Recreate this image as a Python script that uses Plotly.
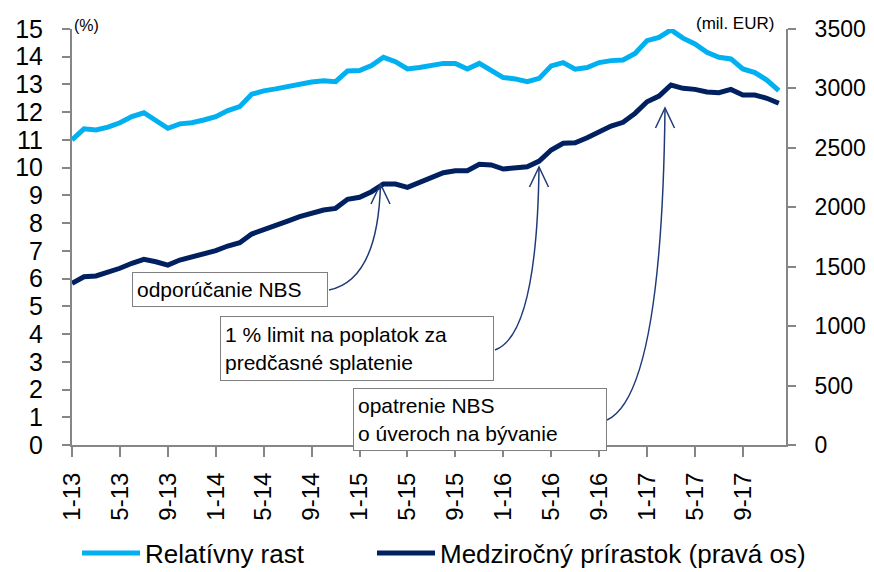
import plotly.graph_objects as go

# ---------------- data ----------------
month_labels = [f"{m}-{y}" for y in range(13, 18) for m in range(1, 13)]
tick_labels = ["1-13", "5-13", "9-13", "1-14", "5-14", "9-14", "1-15", "5-15",
               "9-15", "1-16", "5-16", "9-16", "1-17", "5-17", "9-17"]

rel_growth = [11.0, 11.4, 11.36, 11.46, 11.62, 11.84, 11.98, 11.72, 11.42, 11.58,
              11.62, 11.72, 11.84, 12.06, 12.2, 12.65, 12.77, 12.84, 12.92, 13.02,
              13.09, 13.13, 13.1, 13.49, 13.5, 13.68, 13.98, 13.82, 13.56, 13.61,
              13.67, 13.76, 13.76, 13.56, 13.76, 13.52, 13.25, 13.2, 13.1, 13.22,
              13.67, 13.79, 13.55, 13.61, 13.79, 13.86, 13.88, 14.12, 14.58, 14.7,
              14.97, 14.67, 14.46, 14.16, 13.98, 13.92, 13.56, 13.43, 13.16, 12.78]

yoy_increase = [1360, 1416, 1422, 1450, 1487, 1529, 1562, 1542, 1514, 1556,
                1579, 1607, 1635, 1674, 1702, 1775, 1815, 1851, 1884, 1921,
                1954, 1977, 1991, 2067, 2084, 2131, 2196, 2196, 2168, 2207,
                2249, 2291, 2308, 2308, 2362, 2356, 2322, 2333, 2341, 2389,
                2482, 2538, 2543, 2585, 2636, 2684, 2715, 2790, 2888, 2936,
                3029, 3001, 2992, 2970, 2964, 2992, 2945, 2945, 2917, 2875]

series_names = ["Relatívny rast", "Medziročný prírastok (pravá os)"]
note_texts = ["odporúčanie NBS",
              "1 % limit na poplatok za<br>predčasné splatenie",
              "opatrenie NBS<br>o úveroch na bývanie"]

# ---------------- layout helpers ----------------
# The page body has an 8px margin, so the figure is sized to fit the window.
OFF = 8
WIN_W, WIN_H = 874, 572
W, H = WIN_W - OFF, WIN_H - OFF
# plot area in window pixels: x 72..786, y 29..445
PX0, PX1, PY0, PY1 = 72, 786, 29, 445
L, R = PX0 - OFF, W - (PX1 - OFF)
T, B = PY0 - OFF, H - (PY1 - OFF)
PW, PH = PX1 - PX0, PY1 - PY0
FONT = "Arial, 'Liberation Sans', sans-serif"
AXIS_COL = "#868686"
LIGHT = "#00B0F0"
DARK = "#002060"
ARROW_COL = "#1F3A78"


def px(x):  # window pixel -> paper x
    return (x - PX0) / PW


def py(y):  # window pixel -> paper y
    return (PY1 - y) / PH


def cx(x):  # window pixel -> container x
    return (x - OFF) / W


def cy(y):  # window pixel -> container y
    return (H - (y - OFF)) / H


x_idx = list(range(len(month_labels)))
tickvals = [month_labels.index(t) for t in tick_labels]

fig = go.Figure()
fig.add_trace(go.Scatter(x=x_idx, y=rel_growth, name=series_names[0], mode="lines",
                         line=dict(color=LIGHT, width=5), yaxis="y", legend="legend",
                         showlegend=True))
fig.add_trace(go.Scatter(x=x_idx, y=yoy_increase, name=series_names[1], mode="lines",
                         line=dict(color=DARK, width=5), yaxis="y2", legend="legend2",
                         showlegend=True))

# curved arrows (pixel-based geometry converted to paper coords)
arrows = [
    ((329, 290), (378, 280), (380.5, 184)),
    ((495, 350), (537, 335), (539, 167)),
    ((607, 420), (662, 395), (665, 108)),
]
shapes = []
for (s, c, e) in arrows:
    path = f"M {px(s[0])},{py(s[1])} Q {px(c[0])},{py(c[1])} {px(e[0])},{py(e[1])}"
    shapes.append(dict(type="path", path=path, xref="paper", yref="paper",
                       line=dict(color=ARROW_COL, width=1.5)))
    head = (f"M {px(e[0]-9.5)},{py(e[1]+20)} L {px(e[0])},{py(e[1])} "
            f"L {px(e[0]+9.5)},{py(e[1]+20)}")
    shapes.append(dict(type="path", path=head, xref="paper", yref="paper",
                       line=dict(color=ARROW_COL, width=1.5)))

boxes = [
    (131.5, 272, 196, 35),
    (220, 316, 274, 65),
    (353, 388, 254, 63),
]
annotations = []
for txt, (bx, by, bw, bh) in zip(note_texts, boxes):
    pad = 4
    annotations.append(dict(
        text=txt, xref="paper", yref="paper", x=px(bx), y=py(by),
        xanchor="left", yanchor="top", showarrow=False, align="left",
        valign="middle", width=bw - 2 * pad - 2, height=bh - 2 * pad - 2,
        borderpad=pad, bordercolor="#7F7F7F", borderwidth=1, bgcolor="white",
        font=dict(family=FONT, size=21, color="black")))

annotations.append(dict(text="(%)", xref="paper", yref="paper", x=px(72), y=py(25),
                        xanchor="left", yanchor="middle", showarrow=False,
                        font=dict(family=FONT, size=16, color="black")))
annotations.append(dict(text="(mil. EUR)", xref="paper", yref="paper", x=px(776), y=py(24),
                        xanchor="right", yanchor="middle", showarrow=False,
                        font=dict(family=FONT, size=17, color="black")))

axis_common = dict(showline=True, linecolor=AXIS_COL, linewidth=2, ticks="outside",
                   tickcolor=AXIS_COL, tickwidth=2, showgrid=False, zeroline=False,
                   automargin=False)

legend_common = dict(orientation="h", yanchor="middle", xanchor="left",
                     xref="container", yref="container",
                     font=dict(size=26), bgcolor="rgba(0,0,0,0)", itemwidth=58)

fig.update_layout(
    template="none",
    showlegend=True,
    width=W, height=H,
    margin=dict(l=L, r=R, t=T, b=B, pad=0, autoexpand=False),
    paper_bgcolor="white", plot_bgcolor="white",
    font=dict(family=FONT, color="black"),
    xaxis=dict(range=[0, 59.6], tickvals=tickvals, ticktext=tick_labels,
               tickangle=-90, ticklen=10, tickfont=dict(size=24),
               ticklabelstandoff=6, **axis_common),
    yaxis=dict(range=[0, 15], tick0=0, dtick=1, ticklen=8,
               tickfont=dict(size=25), ticklabelstandoff=14, **axis_common),
    yaxis2=dict(range=[0, 3500], tick0=0, dtick=500, overlaying="y", side="right",
                ticklen=8, tickfont=dict(size=23), ticklabelstandoff=14, **axis_common),
    legend=dict(x=cx(77), y=cy(553), **legend_common),
    legend2=dict(x=cx(372), y=cy(553), **legend_common),
    shapes=shapes,
    annotations=annotations,
)

fig.write_html("out.html")
